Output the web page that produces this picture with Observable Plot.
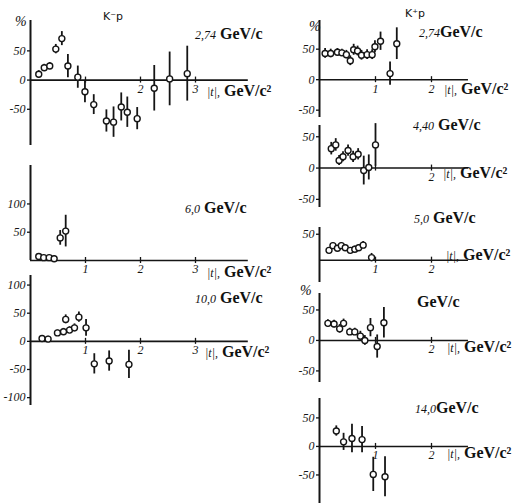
<!DOCTYPE html>
<html><head><meta charset="utf-8">
<script src="https://cdn.jsdelivr.net/npm/d3@7"></script>
<script src="https://cdn.jsdelivr.net/npm/@observablehq/plot@0.6"></script>
<style>
body{margin:0;background:#fff;}
#c{position:relative;width:515px;height:503px;background:#fff;overflow:hidden;font-family:"Liberation Serif",serif;color:#111;}
#c svg{position:absolute;}
.lab{position:absolute;white-space:nowrap;line-height:1;}
.num{font-style:italic;font-size:12px;}
.gev{font-weight:bold;font-size:16px;}
.rx{font-family:"DejaVu Sans",sans-serif;font-size:11px;}
.pc{font-style:italic;font-size:14px;}
</style></head><body><div id="c"></div>
<script>
// ---- data ----
// K-p, 2.74 GeV/c
const km274_t = [0.15,0.25,0.35,0.46,0.57,0.68,0.86,0.99,1.15,1.38,1.51,1.65,1.76,1.94,2.25,2.53,2.85];
const km274_v = [10,21,24,53,71,24,5,-20,-42,-70,-72,-46,-55,-66,-14,2,11];
const km274_e = [6,6,6,8,12,20,19,19,17,19,26,24,26,19,39,46,47];
// K-p, 6.0 GeV/c
const km60_t = [0.15,0.24,0.34,0.43,0.54,0.64];
const km60_v = [7,5,5,3,40,52];
const km60_e = [5,5,5,5,13,28];
// K-p, 10.0 GeV/c
const km100_t = [0.21,0.32,0.49,0.60,0.64,0.71,0.80,0.88,1.01,1.16,1.43,1.79];
const km100_v = [5,4,15,17,39,20,24,43,24,-40,-35,-41];
const km100_e = [5,5,5,6,8,6,7,9,15,18,18,25];
// K+p, 2.74 GeV/c
const kp274_t = [0.10,0.20,0.32,0.40,0.48,0.55,0.61,0.68,0.75,0.85,0.94,0.99,1.09,1.26,1.38];
const kp274_v = [43,43,45,44,41,31,49,47,40,41,41,54,63,10,59];
const kp274_e = [8,7,6,6,7,8,9,8,8,8,8,10,15,19,26];
// K+p, 4.40 GeV/c
const kp440_t = [0.21,0.29,0.35,0.42,0.51,0.60,0.69,0.79,0.88,1.00];
const kp440_v = [31,37,12,18,28,18,22,-4,1,37];
const kp440_e = [10,10,8,8,9,9,9,23,20,34];
// K+p, 5.0 GeV/c
const kp50_t = [0.17,0.24,0.32,0.39,0.46,0.55,0.63,0.70,0.78,0.93];
const kp50_v = [19,28,23,28,24,19,21,24,29,5];
const kp50_e = [5,5,5,5,5,5,6,6,7,8];
// K+p, (momentum not legible) GeV/c
const kpX_t = [0.15,0.26,0.36,0.43,0.54,0.63,0.73,0.81,0.91,1.03,1.15];
const kpX_v = [28,27,19,28,14,14,7,0,21,-10,29];
const kpX_e = [6,6,7,7,6,6,8,8,15,19,25];
// K+p, 14.0 GeV/c
const kp140_t = [0.30,0.43,0.58,0.76,0.96,1.17];
const kp140_v = [27,8,14,12,-49,-53];
const kp140_e = [9,15,25,23,30,35];

// tick labels
const L1_yTicks = [50,0,-50];   const L1_xTicks = [1,2,3]; const L1_xLabels = [2,3];
const L2_yTicks = [100,50];     const L2_xTicks = [1,2,3]; const L2_xLabels = [1,2,3];
const L3_yTicks = [100,50,0,-50,-100]; const L3_xTicks = [1,2,3]; const L3_xLabels = [1,2,3];
const R1_yTicks = [50,0,-50];   const R1_xTicks = [1,2]; const R1_xLabels = [1,2];
const R2_yTicks = [50,0,-50];   const R2_xTicks = [1,2]; const R2_xLabels = [2];
const R3_yTicks = [50];         const R3_xTicks = [1,2]; const R3_xLabels = [1,2];
const R4_yTicks = [50,0,-50];   const R4_xTicks = [1,2]; const R4_xLabels = [2];
const R5_yTicks = [50,0,-50];   const R5_xTicks = [1,2]; const R5_xLabels = [1,2];

// ---- layout ----
const LEFT = {left:0, width:260, mL:30, mR:10, xDomain:[0,4], xEnd:3.96};
const RIGHT = {left:289, width:226, mL:30, mR:0, xDomain:[0,3.5], xEnd:2.66};
const panels = [
  {...LEFT, t:km274_t, v:km274_v, e:km274_e, top:0, height:150, mT:20, mB:5, yDomain:[-112,102], yTicks:L1_yTicks, xTicks:L1_xTicks, xLabels:L1_xLabels},
  {...LEFT, t:km60_t, v:km60_v, e:km60_e, top:150, height:130, mT:15, mB:20, yDomain:[0,168], yTicks:L2_yTicks, xTicks:L2_xTicks, xLabels:L2_xLabels},
  {...LEFT, t:km100_t, v:km100_v, e:km100_e, top:270, height:140, mT:5, mB:5, yDomain:[-114,117], yTicks:L3_yTicks, xTicks:L3_xTicks, xLabels:L3_xLabels},
  {...RIGHT, t:kp274_t, v:kp274_v, e:kp274_e, top:0, height:122, mT:20, mB:5, yDomain:[-62,97], yTicks:R1_yTicks, xTicks:R1_xTicks, xLabels:R1_xLabels},
  {...RIGHT, t:kp440_t, v:kp440_v, e:kp440_e, top:110, height:102, mT:15, mB:5, yDomain:[-63,68], yTicks:R2_yTicks, xTicks:R2_xTicks, xLabels:R2_xLabels},
  {...RIGHT, t:kp50_t, v:kp50_v, e:kp50_e, top:210, height:77, mT:17, mB:5, yDomain:[-43,63], yTicks:R3_yTicks, xTicks:R3_xTicks, xLabels:R3_xLabels},
  {...RIGHT, t:kpX_t, v:kpX_v, e:kpX_e, top:285, height:102, mT:8, mB:5, yDomain:[-69,77], yTicks:R4_yTicks, xTicks:R4_xTicks, xLabels:R4_xLabels},
  {...RIGHT, t:kp140_t, v:kp140_v, e:kp140_e, top:390, height:113, mT:8, mB:0, yDomain:[-100,84], yTicks:R5_yTicks, xTicks:R5_xTicks, xLabels:R5_xLabels}
];

const c = document.getElementById("c");
const INK = "#151515";
for (const p of panels) {
  const rows = p.t.map((x,i) => ({t:x, v:p.v[i], e:p.e[i]}));
  const pxY = (p.height - p.mT - p.mB) / (p.yDomain[1] - p.yDomain[0]);
  const pxX = (p.width - p.mL - p.mR) / (p.xDomain[1] - p.xDomain[0]);
  const hy = 3 / pxY, hx = 3 / pxX;
  const svg = Plot.plot({
    width: p.width, height: p.height,
    marginLeft: p.mL, marginRight: p.mR, marginTop: p.mT, marginBottom: p.mB,
    x: {domain: p.xDomain, axis: null},
    y: {domain: p.yDomain, axis: null},
    style: {background: "transparent", overflow: "visible", fontFamily: "Liberation Serif", color: INK},
    marks: [
      Plot.ruleX([0], {stroke: INK, strokeWidth: 2}),
      Plot.ruleY([0], {x1: 0, x2: p.xEnd, stroke: INK, strokeWidth: 1.6}),
      Plot.ruleY(p.yTicks, {y: d => d, x1: -hx, x2: 0, stroke: INK, strokeWidth: 1.3}),
      Plot.text(p.yTicks, {x: 0, y: d => d, dx: -5, textAnchor: "end", text: d => d < 0 ? "-" + Math.abs(d) : String(d), fontStyle: "italic", fontSize: 12, fill: INK}),
      Plot.ruleX(p.xTicks, {x: d => d, y1: -hy, y2: hy, stroke: INK, strokeWidth: 1.3}),
      Plot.text(p.xLabels, {x: d => d, y: 0, dy: 9, text: d => String(d), fontStyle: "italic", fontSize: 12, fill: INK}),
      Plot.ruleX(rows, {x: "t", y1: d => d.v - d.e, y2: d => d.v + d.e, stroke: INK, strokeWidth: 1.8}),
      Plot.dot(rows, {x: "t", y: "v", r: 3, fill: "white", stroke: INK, strokeWidth: 1.4})
    ]
  });
  svg.style.left = p.left + "px";
  svg.style.top = p.top + "px";
  c.appendChild(svg);
}

// ---- annotation text ----
const labels = [
  ["%", 15, 15, "pc"],
  ["K⁻p", 103, 11, "rx"],
  ["<span class='num'>2,74</span> <span class='gev'>GeV/c</span>", 195, 26, ""],
  ["<span class='num'>|t|,</span> <span class='gev'>GeV/c²</span>", 207, 83, ""],
  ["<span class='num'>6,0</span> <span class='gev'>GeV/c</span>", 185, 200, ""],
  ["<span class='num'>|t|,</span> <span class='gev'>GeV/c²</span>", 207, 264, ""],
  ["<span class='num'>10,0</span> <span class='gev'>GeV/c</span>", 195, 290, ""],
  ["<span class='num'>|t|,</span> <span class='gev'>GeV/c²</span>", 205, 344, ""],
  ["%", 309, 20, "pc"],
  ["K⁺p", 405, 8, "rx"],
  ["<span class='num'>2,74</span><span class='gev'>GeV/c</span>", 419, 24, ""],
  ["<span class='num'>|t|,</span> <span class='gev'>GeV/c²</span>", 444, 81, ""],
  ["<span class='num'>4,40</span> <span class='gev'>GeV/c</span>", 413, 117, ""],
  ["<span class='num'>|t|,</span> <span class='gev'>GeV/c²</span>", 443, 165, ""],
  ["<span class='num'>5,0</span> <span class='gev'>GeV/c</span>", 414, 210, ""],
  ["<span class='num'>|t|,</span> <span class='gev'>GeV/c²</span>", 446, 247, ""],
  ["%", 300, 284, "pc"],
  ["<span class='gev'>GeV/c</span>", 417, 294, ""],
  ["<span class='num'>|t|,</span> <span class='gev'>GeV/c²</span>", 447, 339, ""],
  ["<span class='num'>14,0</span><span class='gev'>GeV/c</span>", 415, 400, ""],
  ["<span class='num'>|t|,</span> <span class='gev'>GeV/c²</span>", 447, 445, ""]
];
for (const [html, x, y, cls] of labels) {
  const d = document.createElement("div");
  d.className = "lab " + cls;
  d.innerHTML = html;
  d.style.left = x + "px";
  d.style.top = y + "px";
  c.appendChild(d);
}
</script></body></html>
